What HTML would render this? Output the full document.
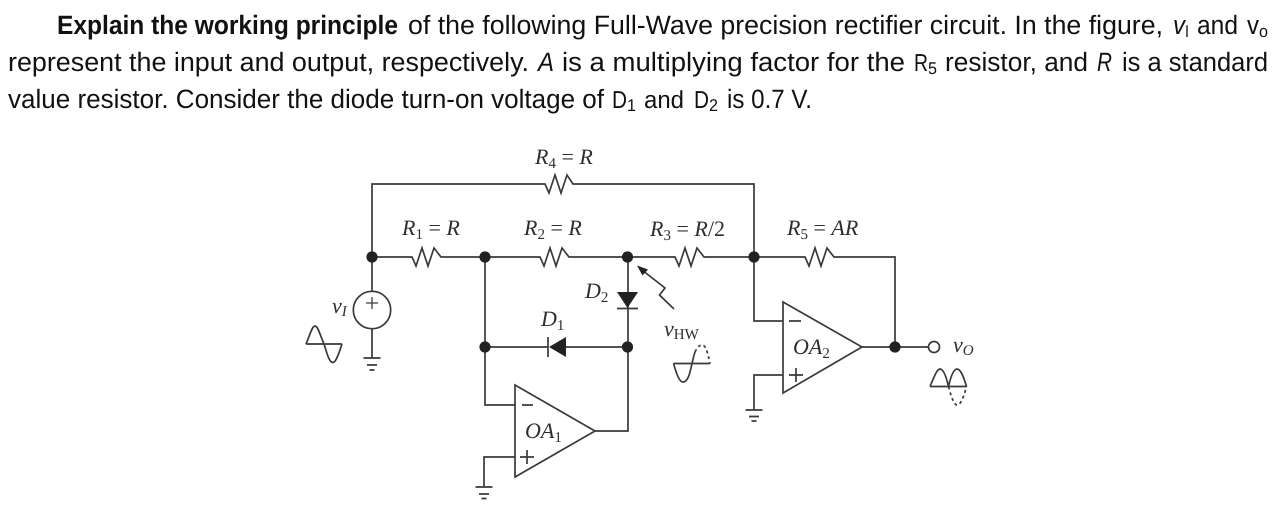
<!DOCTYPE html>
<html><head><meta charset="utf-8"><style>
html,body{margin:0;padding:0;background:#fff;width:1280px;height:512px;overflow:hidden}
svg{display:block;text-rendering:geometricPrecision}
.t{font-family:"Liberation Sans",sans-serif;font-size:26.5px;fill:#111}
.t .s{font-size:17px}
.t .d{font-size:24.5px}
.l{font-family:"Liberation Serif",serif;font-size:22px;fill:#2e2e2e;font-style:italic}
.u{font-family:"Liberation Serif",serif;font-size:15px;fill:#2e2e2e;font-style:normal}
.w{fill:none;stroke:#3a3a3a;stroke-width:1.7}
.n{fill:#222}
</style></head><body>
<svg width="1280" height="512" viewBox="0 0 1280 512" xmlns="http://www.w3.org/2000/svg">
<g class="t">
<text x="57" y="34" font-weight="bold" textLength="341" lengthAdjust="spacingAndGlyphs">Explain the working principle</text>
<text x="408" y="34" textLength="755" lengthAdjust="spacingAndGlyphs">of the following Full-Wave precision rectifier circuit. In the figure,</text>
<text x="1173" y="34" font-style="italic" textLength="12" lengthAdjust="spacingAndGlyphs">v</text>
<text x="1185" y="37" class="s" textLength="4" lengthAdjust="spacingAndGlyphs">I</text>
<text x="1197" y="34" textLength="41" lengthAdjust="spacingAndGlyphs">and</text>
<text x="1247" y="34" textLength="12" lengthAdjust="spacingAndGlyphs">v</text>
<text x="1259" y="37" class="s" textLength="9" lengthAdjust="spacingAndGlyphs">o</text>
<text x="8" y="71" textLength="521" lengthAdjust="spacingAndGlyphs">represent the input and output, respectively.</text>
<text x="538" y="71" font-style="italic" textLength="16" lengthAdjust="spacingAndGlyphs">A</text>
<text x="562" y="71" textLength="343" lengthAdjust="spacingAndGlyphs">is a multiplying factor for the</text>
<text x="914" y="71" class="d" textLength="14" lengthAdjust="spacingAndGlyphs">R</text>
<text x="928" y="74" class="s" textLength="9" lengthAdjust="spacingAndGlyphs">5</text>
<text x="945" y="71" textLength="143" lengthAdjust="spacingAndGlyphs">resistor, and</text>
<text x="1097" y="71" font-style="italic" textLength="15" lengthAdjust="spacingAndGlyphs">R</text>
<text x="1122" y="71" textLength="146" lengthAdjust="spacingAndGlyphs">is a standard</text>
<text x="8" y="108" textLength="596" lengthAdjust="spacingAndGlyphs">value resistor. Consider the diode turn-on voltage of</text>
<text x="612" y="108" class="d" textLength="15" lengthAdjust="spacingAndGlyphs">D</text>
<text x="627" y="111" class="s" textLength="9" lengthAdjust="spacingAndGlyphs">1</text>
<text x="644" y="108" class="d" textLength="40" lengthAdjust="spacingAndGlyphs">and</text>
<text x="694" y="108" class="d" textLength="15" lengthAdjust="spacingAndGlyphs">D</text>
<text x="709" y="111" class="s" textLength="9" lengthAdjust="spacingAndGlyphs">2</text>
<text x="727" y="108" textLength="85" lengthAdjust="spacingAndGlyphs">is 0.7 V.</text>
</g>

<g class="w">
<!-- R4 loop -->
<path d="M372 257V184H545L549 193L555 175L561 193L567 175L573 184H754V257"/>
<!-- R1 -->
<path d="M372 257H412L416 266L422 248L428 266L434 248L441 257H485"/>
<!-- R2 -->
<path d="M485 257H540L544 266L550 248L556 266L562 248L569 257H628"/>
<!-- R3 -->
<path d="M628 257H675L679 266L685 248L691 266L697 248L704 257H754"/>
<!-- R5 -->
<path d="M754 257H805L809 266L815 248L821 266L827 248L834 257H895V347"/>
<!-- source -->
<path d="M372 257V291M372 329V358"/>
<circle cx="372" cy="310" r="18.700"/>
<path d="M366 303H378M372 297V309" stroke-width="1.300"/>
<path d="M363.500 358H380.500M367 365H377M369.500 370H374.500"/>
<path d="M485 257V405H515M485 347H548M566 347H628M628 257V431H595"/>
<path d="M617 308.500H638M548 337V357"/>
<!-- OA1 -->
<path d="M515 385L595 431L515 477Z"/>
<path d="M522 405H533M484 487V457H515"/>
<path d="M520 457H534M527 450V464"/>
<path d="M475.500 487H492.500M479 494H489M481.500 498.500H486.500"/>
<!-- OA2 -->
<path d="M783 302L862 347L783 393Z"/>
<path d="M754 257V321H783M754 410V375H783M862 347H928"/>
<path d="M789 321H801M789 375H803M796 368V382"/>
<path d="M745.500 410H762.500M749 416.500H759M751.500 421H756.500"/>
<circle cx="934" cy="347" r="5.500"/>
<!-- Arrow -->
<path d="M642 270L665 288L659.500 295L674 309"/>
<!-- Wave input -->
<path d="M306 344H342M306 344C310 335 312 326 315 326C318 326 320 335 324 344C327 353 329 362.500 333 362.500C336 362.500 339 353 342 344"/>
<!-- Wave HW -->
<path d="M673.500 363.500H710M673.500 363.500C676 372 679 382 683 382C688 382 690 373 692 363.500C693 359 694 355 695 352"/>
<path d="M695 352C698 346 700 345 702 345C706 345 708 354 710 363.500" stroke-dasharray="3 3"/>
<!-- Wave VO -->
<path d="M930 386.500H966.500M930 386.500C934 377 937 369 940 369C944 369 947 380 948.500 386.500C950 380 953 369 957 369C961 369 964 378 966.500 386.500"/>
<path d="M948.500 386.500C951 396 954 405 957 405C961 405 964 396 966.500 386.500" stroke-dasharray="3 3"/>
</g>
<path class="n" d="M617 292H638L627.500 308Z"/>
<path class="n" d="M549 347L566 337V357Z"/>
<path class="n" d="M637 265.500L648 269.500L642.500 275.500Z"/>
<g class="n">
<circle cx="372" cy="257" r="5.600"/><circle cx="485" cy="257" r="5.600"/><circle cx="627.500" cy="257" r="5.600"/><circle cx="754" cy="257" r="5.600"/>
<circle cx="485" cy="347" r="5.600"/><circle cx="627.500" cy="347" r="5.600"/><circle cx="895" cy="347" r="5.600"/>
</g>

<g class="l">
<text x="535" y="164">R<tspan class="u" dy="4">4</tspan><tspan dy="-4" font-style="normal"> = </tspan>R</text>
<text x="402" y="235">R<tspan class="u" dy="4">1</tspan><tspan dy="-4" font-style="normal"> = </tspan>R</text>
<text x="524" y="235">R<tspan class="u" dy="4">2</tspan><tspan dy="-4" font-style="normal"> = </tspan>R</text>
<text x="650" y="236">R<tspan class="u" dy="4">3</tspan><tspan dy="-4" font-style="normal"> = </tspan>R<tspan font-style="normal">/2</tspan></text>
<text x="787" y="235">R<tspan class="u" dy="4">5</tspan><tspan dy="-4" font-style="normal"> = </tspan>AR</text>
<text x="585" y="298">D<tspan class="u" dy="4">2</tspan></text>
<text x="541" y="326">D<tspan class="u" dy="4">1</tspan></text>
<text x="332" y="313">v<tspan class="u" dy="3" style="font-style:italic">I</tspan></text>
<text x="664" y="336">v<tspan class="u" dy="3">HW</tspan></text>
<text x="953" y="352">v<tspan class="u" dy="3" style="font-style:italic">O</tspan></text>
<text x="525" y="438">OA<tspan class="u" dy="4">1</tspan></text>
<text x="793" y="354">OA<tspan class="u" dy="4">2</tspan></text>
</g>
</svg>
</body></html>
